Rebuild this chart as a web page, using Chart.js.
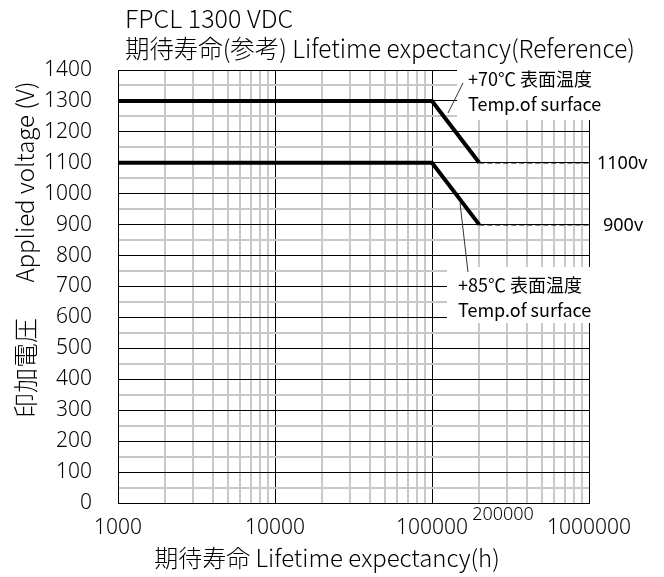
<!DOCTYPE html>
<html>
<head>
<meta charset="utf-8">
<script src="https://cdn.jsdelivr.net/npm/chart.js@4.4.1/dist/chart.umd.min.js"></script>
<style>
  html, body { margin: 0; padding: 0; background: #ffffff; }
  #wrap { width: 664px; height: 577px; position: relative; }
</style>
</head>
<body>
<div id="wrap"><canvas id="c" width="664" height="577"></canvas></div>
<script>
// ---- data ----
const lifeHours = [1000, 100000, 200000];
const volt70 = [1300, 1300, 1100];
const volt85 = [1100, 1100, 900];
const extHours = [200000, 1000000];
const ext70 = [1100, 1100];
const ext85 = [900, 900];

const xDecadeValues = [1000, 10000, 100000, 1000000];
const xTickLabels = ['1000', '10000', '100000', '1000000'];
const yMin = 0, yMax = 1400, yMinorStep = 50, yLabelStep = 100;

const titleLine1 = 'FPCL 1300 VDC';
const titleLine2 = '期待寿命(参考) Lifetime expectancy(Reference)';
const xTitle = '期待寿命 Lifetime expectancy(h)';
const yTitleEn = 'Applied voltage (V)';
const yTitleJa = '印加電圧';
const note70 = ['+70℃ 表面温度', 'Temp.of surface'];
const note85 = ['+85℃ 表面温度', 'Temp.of surface'];
const endLabel70 = '1100v';
const endLabel85 = '900v';
const kneeLabel = '200000';

const JP = '"Noto Sans CJK JP", "Noto Sans", sans-serif';
const LAT = '"Noto Sans", "Noto Sans CJK JP", sans-serif';

function pts(xs, ys) { return xs.map((x, i) => ({ x: x, y: ys[i] })); }

// all log gridline positions (decades + 2..9 multiples)
const xGridValues = [];
for (let d = 0; d < xDecadeValues.length - 1; d++) {
  for (let m = 1; m <= 9; m++) xGridValues.push(xDecadeValues[d] * m);
}
xGridValues.push(xDecadeValues[xDecadeValues.length - 1]);

const decor = {
  id: 'decor',
  afterDraw(chart) {
    const ctx = chart.ctx;
    const ys = chart.scales.y;
    ctx.save();
    // white boxes behind notes
    ctx.fillStyle = '#ffffff';
    ctx.fillRect(457, 60, 160, 60);
    ctx.fillRect(447, 267, 160, 56);

    ctx.fillStyle = '#000000';
    ctx.textBaseline = 'middle';
    ctx.textAlign = 'left';
    // titles
    ctx.font = '300 25px ' + JP;
    ctx.fillText(titleLine1, 125, 18);
    ctx.fillText(titleLine2, 125, 48, 510);
    // x title
    ctx.textAlign = 'center';
    ctx.font = '300 24px ' + JP;
    ctx.fillText(xTitle, 327, 558, 356);
    // knee label
    ctx.font = '300 18px ' + LAT;
    ctx.fillText(kneeLabel, 503, 515);
    // y titles rotated
    ctx.save();
    ctx.translate(25, 182);
    ctx.rotate(-Math.PI / 2);
    ctx.font = '300 24px ' + JP;
    ctx.fillText(yTitleEn, 0, 0, 212);
    ctx.restore();
    ctx.save();
    ctx.translate(25, 368);
    ctx.rotate(-Math.PI / 2);
    ctx.font = '300 25px ' + JP;
    ctx.fillText(yTitleJa, 0, 0);
    ctx.restore();

    // notes
    ctx.textAlign = 'left';
    ctx.font = '18px ' + JP;
    ctx.fillText(note70[0], 468, 79);
    ctx.fillText(note70[1], 468, 104);
    ctx.fillText(note85[0], 458, 285);
    ctx.fillText(note85[1], 458, 310);
    // end labels
    ctx.font = '18px ' + LAT;
    ctx.fillText(endLabel70, 597, ys.getPixelForValue(ext70[1]) + 1);
    ctx.fillText(endLabel85, 603, ys.getPixelForValue(ext85[1]) + 1);

    // leader lines
    ctx.strokeStyle = '#333333';
    ctx.lineWidth = 1;
    ctx.beginPath();
    ctx.moveTo(463, 83); ctx.lineTo(448, 113);
    ctx.moveTo(460, 203); ctx.lineTo(468, 272);
    ctx.stroke();
    ctx.restore();
  }
};

new Chart(document.getElementById('c'), {
  type: 'line',
  data: {
    datasets: [
      { data: pts(lifeHours, volt70), borderColor: '#000', borderWidth: 4, pointRadius: 0, borderJoinStyle: 'miter', borderCapStyle: 'butt', tension: 0 },
      { data: pts(lifeHours, volt85), borderColor: '#000', borderWidth: 4, pointRadius: 0, borderJoinStyle: 'miter', borderCapStyle: 'butt', tension: 0 },
      { data: pts(extHours, ext70), borderColor: '#000', borderWidth: 1.5, borderDash: [5, 3], pointRadius: 0, tension: 0 },
      { data: pts(extHours, ext85), borderColor: '#000', borderWidth: 1.5, borderDash: [5, 3], pointRadius: 0, tension: 0 }
    ]
  },
  options: {
    responsive: false,
    devicePixelRatio: 1,
    animation: false,
    events: [],
    layout: { padding: { left: 0, top: 70, right: 75, bottom: 0 } },
    plugins: { legend: { display: false }, tooltip: { enabled: false }, title: { display: false } },
    scales: {
      x: {
        type: 'logarithmic',
        min: xDecadeValues[0],
        max: xDecadeValues[xDecadeValues.length - 1],
        afterBuildTicks(scale) { scale.ticks = xGridValues.map(v => ({ value: v })); },
        afterFit(scale) { scale.height = 74; },
        ticks: {
          autoSkip: false, maxRotation: 0, minRotation: 0, padding: 12,
          color: '#000', font: { family: LAT, size: 21, weight: '300' },
          callback(v) { const i = xDecadeValues.indexOf(v); return i >= 0 ? xTickLabels[i] : ''; }
        },
        grid: {
          drawTicks: false,
          color: c => (c.tick && xDecadeValues.includes(c.tick.value)) ? '#000000' : '#c8c8c8',
          lineWidth: c => (c.tick && xDecadeValues.includes(c.tick.value)) ? 1 : 2
        },
        border: { display: true, color: '#000', width: 1 }
      },
      y: {
        type: 'linear',
        min: yMin, max: yMax,
        afterFit(scale) { scale.width = 118; },
        ticks: {
          stepSize: yMinorStep, autoSkip: false, padding: 26,
          color: '#000', font: { family: LAT, size: 21, weight: '300' },
          callback(v) { return v % yLabelStep === 0 ? String(v) : ''; }
        },
        grid: {
          drawTicks: false,
          color: c => (c.tick && c.tick.value % yLabelStep === 0) ? '#000000' : '#c8c8c8',
          lineWidth: c => (c.tick && c.tick.value % yLabelStep === 0) ? 1 : 2
        },
        border: { display: true, color: '#000', width: 1 }
      }
    }
  },
  plugins: [decor]
});
</script>
</body>
</html>
